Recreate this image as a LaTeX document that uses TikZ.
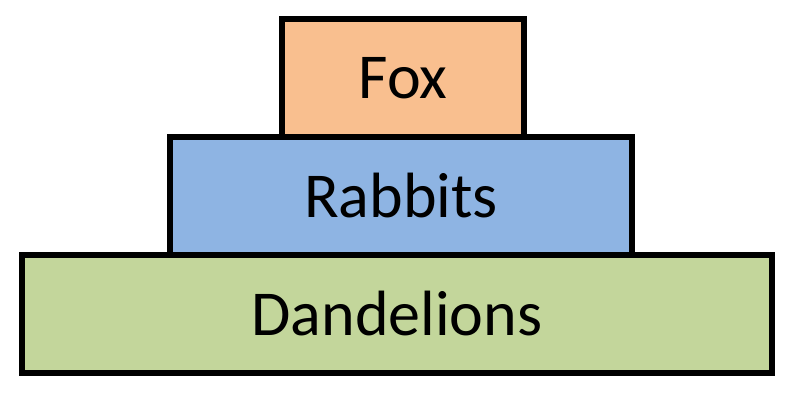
\documentclass[tikz,border=0pt]{standalone}
\usepackage{fontspec}
\setmainfont{Carlito}
\usetikzlibrary{positioning}
\definecolor{foxorange}{HTML}{F9BF8F}
\definecolor{rabbitblue}{HTML}{8EB4E3}
\definecolor{dandgreen}{HTML}{C3D69B}

\begin{document}
\begin{tikzpicture}[x=1pt,y=1pt,
        level/.style={draw=black, line width=6pt, outer sep=0pt, inner sep=0pt,
            minimum height=118pt, font=\fontsize{64}{76}\selectfont}]
        \useasboundingbox (0,0) rectangle (796,400);
        
        \node[level, fill=dandgreen, minimum width=750pt] (dandelions) at (397,86) {Dandelions};
        \node[level, fill=rabbitblue, minimum width=462pt, above=0pt of dandelions, xshift=4pt] (rabbits) {Rabbits};
        \node[level, fill=foxorange, minimum width=242pt, above=0pt of rabbits, xshift=2pt] (fox) {Fox};
    \end{tikzpicture}
\end{document}
